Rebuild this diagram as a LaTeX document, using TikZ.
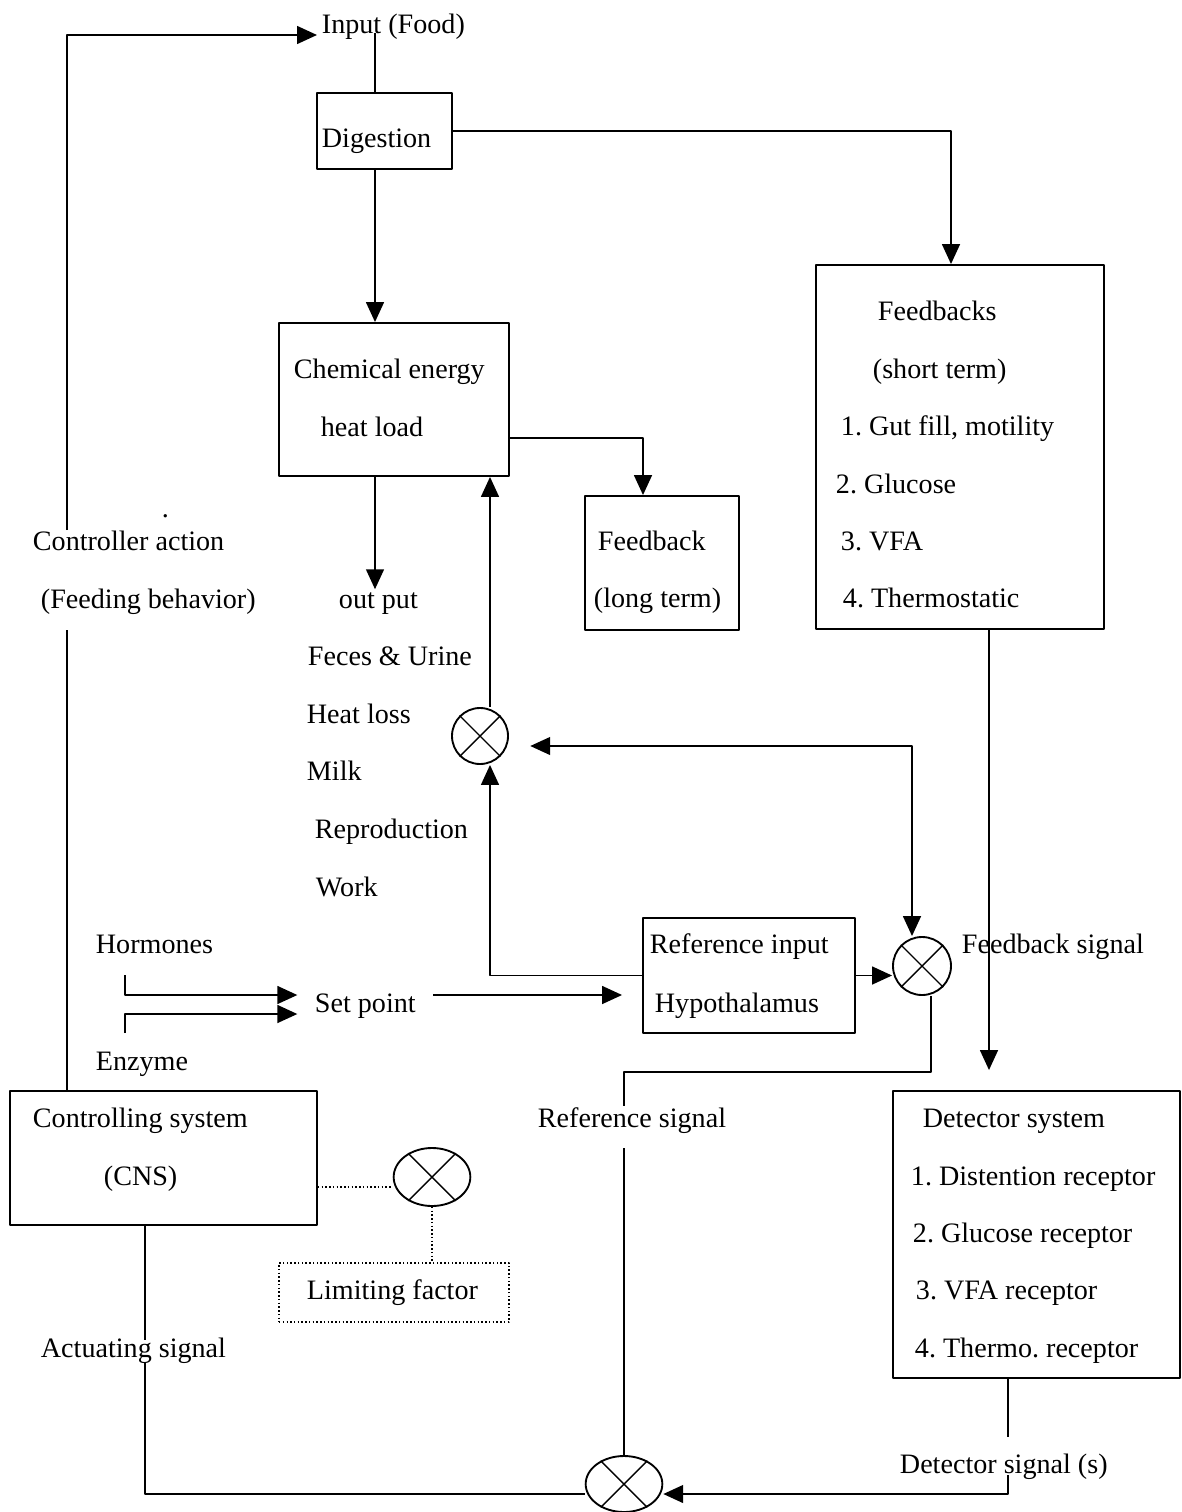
\documentclass[tikz,border=0pt]{standalone}
\usepackage{fontspec}
\setmainfont{Liberation Serif}
\usetikzlibrary{arrows.meta,fit,shapes.geometric}
\begin{document}
\frenchspacing
\begin{tikzpicture}[x=0.015cm,y=-0.015cm,line join=round,line width=0.8pt,
	>={Triangle[length=8.5pt,width=7.6pt]},font=\fontsize{12}{14}\selectfont,
	txt/.style={anchor=base west,inner sep=0pt},
	blk/.style={draw,inner sep=0pt,fit={#1}},
	sumj/.style={draw,ellipse,inner sep=0pt},
	lim/.style={densely dotted,line width=0.6pt}]
	\useasboundingbox (0,0) rectangle (1181,1512);
	% Cac khoi
	\node[blk={(317,93) (452,169)}] (dig) {};
	\node[blk={(279,323) (509,476)}] (chem) {};
	\node[blk={(816,265) (1104,629)}] (fbs) {};
	\node[blk={(585,496) (739,630)}] (fbl) {};
	\node[blk={(643,918) (855,1033)}] (ref) {};
	\node[blk={(10,1091) (317,1225)}] (ctl) {};
	\node[blk={(893,1091) (1180,1378)}] (det) {};
	\node[blk={(279,1263) (509,1322)},lim] (lfb) {};
	% Cac bo cong
	\node[sumj,minimum width=0.84cm,minimum height=0.84cm] (s1) at (480,736) {};
	\node[sumj,minimum width=0.87cm,minimum height=0.87cm] (s2) at (922,966) {};
	\node[sumj,minimum width=1.15cm,minimum height=0.84cm] (s3) at (624,1484) {};
	\node[sumj,minimum width=1.15cm,minimum height=0.87cm] (sl) at (432,1177) {};
	\foreach \s in {s1,s2,s3,sl}{
		\draw[line width=0.6pt] (\s.45) -- (\s.225) (\s.135) -- (\s.315);
	}
	% Chu
	\node[txt] (in) at (321,33) {Input (Food)};
	\node[txt] (tdig) at (321,147) {Digestion};
	\node[txt] (tch1) at (293,378) {Chemical energy};
	\node[txt] (tch2) at (320,436) {heat load};
	\node[txt] (tfs1) at (877,320) {Feedbacks};
	\node[txt] (tfs2) at (872,378) {(short term)};
	\node[txt] (tfs3) at (840,435) {1. Gut fill, motility};
	\node[txt] (tfs4) at (835,493) {2. Glucose};
	\node[txt] (tfs5) at (840,550) {3. VFA};
	\node[txt] (tfs6) at (842,607) {4. Thermostatic};
	\node[txt] (tfl1) at (597,550) {Feedback};
	\node[txt] (tfl2) at (593,607) {(long term)};
	\node[txt] (dot) at (161,517) {.};
	\node[txt] (tca1) at (32,550) {Controller action};
	\node[txt] (tca2) at (40,608) {(Feeding behavior)};
	\node[txt] (tout) at (338,608) {out put};
	\node[txt] (to1) at (307,665) {Feces \& Urine};
	\node[txt] (to2) at (306,723) {Heat loss};
	\node[txt] (to3) at (306,780) {Milk};
	\node[txt] (to4) at (314,838) {Reproduction};
	\node[txt] (to5) at (315,896) {Work};
	\node[txt] (thor) at (95,953) {Hormones};
	\node[txt] (tsp) at (314,1012) {Set point};
	\node[txt] (tenz) at (95,1070) {Enzyme};
	\node[txt] (tref1) at (649,953) {Reference input};
	\node[txt] (tref2) at (654,1012) {Hypothalamus};
	\node[txt] (tfsig) at (961,953) {Feedback signal};
	\node[txt] (tctl1) at (32,1127) {Controlling system};
	\node[txt] (tctl2) at (103,1185) {(CNS)};
	\node[txt] (trs) at (537,1127) {Reference signal};
	\node[txt] (tdet1) at (922,1127) {Detector system};
	\node[txt] (tdet2) at (910,1185) {1. Distention receptor};
	\node[txt] (tdet3) at (912,1242) {2. Glucose receptor};
	\node[txt] (tdet4) at (915,1299) {3. VFA receptor};
	\node[txt] (tdet5) at (914,1357) {4. Thermo. receptor};
	\node[txt] (tlf) at (306,1299) {Limiting factor};
	\node[txt] (tas) at (40,1357) {Actuating signal};
	\node[txt] (tds) at (899,1473) {Detector signal (s)};
	\path
	(375,0) coordinate (c1)
	(490,0) coordinate (c2)
	(951,0) coordinate (c3)
	(643,0) coordinate (c4)
	(912,0) coordinate (c5)
	(931,0) coordinate (c6)
	(624,0) coordinate (c7)
	(989,0) coordinate (c8)
	(0,35) coordinate (r0)
	(0,438) coordinate (r1)
	(0,746) coordinate (r2)
	(0,995) coordinate (r3)
	(0,1014) coordinate (r4)
	(0,1072) coordinate (r5)
	(0,1494) coordinate (r6)
	(0,1187) coordinate (r7)
	(67,530) coordinate (ca1)
	(67,630) coordinate (ca2)
	(125,975) coordinate (hb)
	(125,1033) coordinate (eb)
	(624,1148) coordinate (rsb)
	(1008,1437) coordinate (dsa)
	(1008,1475) coordinate (dsb)
	(145,1340) coordinate (asa)
	(145,1362) coordinate (asb);
	% Duong tren
	\draw (ctl.north -| ca2) -- (ca2);
	\draw[->] (ca1) |- ([xshift=-0.06cm]in.west |- r0);
	\draw (in.base -| c1) -- (dig.north -| c1);
	\draw[->] (dig.south -| c1) -- (chem.north -| c1);
	\draw[->] (dig.east) -| (fbs.north -| c3);
	\draw[->] (chem.south -| c1) -- ([yshift=0.03cm]tout.north -| c1);
	\draw[->] (chem.east |- r1) -| (fbl.north -| c4);
	\draw[->] (s1.north -| c2) -- (chem.south -| c2);
	\draw[->] (ref.west) -| (s1.south -| c2);
	\draw[<->] ([xshift=0.32cm]s1.east |- r2) -| (s2.north -| c5);
	% Set point
	\draw[->] (hb) |- ([xshift=-0.25cm]tsp.west |- r3);
	\draw[->] (eb) |- ([xshift=-0.25cm]tsp.west |- r4);
	\draw[->] ([xshift=0.25cm]tsp.east |- r3) -- ([xshift=-0.3cm]ref.west |- r3);
	\draw[->] (ref.east) -- (s2.west |- ref.east);
	% Duong duoi
	\draw (s2.south -| c6) |- (c7 |- r5) -- (trs.north -| c7);
	\draw (rsb) -- (s3.north);
	\draw[->] (fbs.south -| c8) -- ([yshift=0.3cm]det.north -| c8);
	\draw (det.south -| dsa) -- (dsa);
	\draw[->] (dsb) |- (s3.east |- r6);
	\draw (ctl.south -| asa) -- (asa);
	\draw (asb) |- (s3.west |- r6);
	\draw[lim] (ctl.east |- r7) -- (sl.west |- r7);
	\draw[lim] (sl.south) -- (lfb.north -| sl.south);
\end{tikzpicture}
\end{document}
